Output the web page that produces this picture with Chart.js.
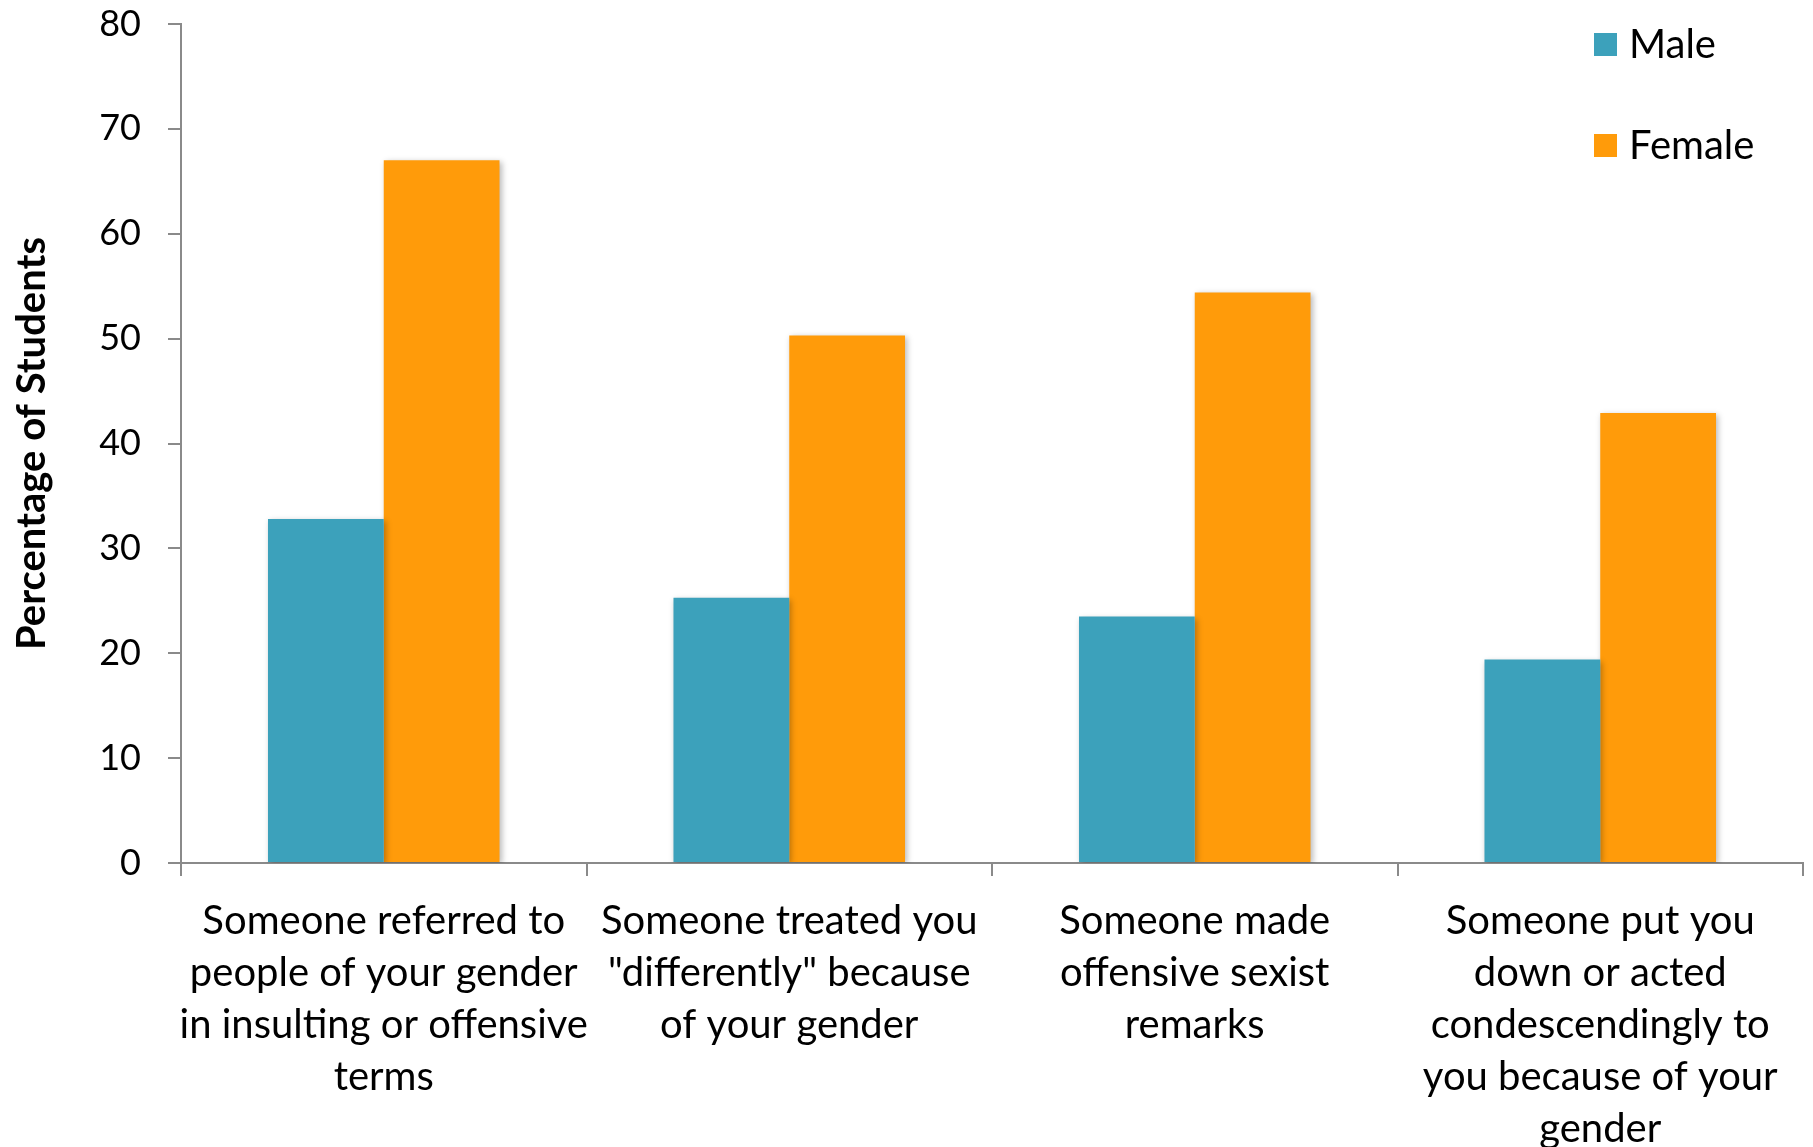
<!DOCTYPE html>
<html>
<head>
<meta charset="utf-8">
<script src="https://cdn.jsdelivr.net/npm/chart.js@4/dist/chart.umd.min.js"></script>
<style>
  html, body { margin: 0; padding: 0; background: #ffffff; }
  #wrap { width: 1813px; height: 1147px; position: relative; }
</style>
</head>
<body>
<div id="wrap"><canvas id="chart" width="1813" height="1147"></canvas></div>
<script>
// Survey categories, each split into the lines shown under the axis
const categories = [
  ["Someone referred to", "people of your gender", "in insulting or offensive", "terms"],
  ["Someone treated you", "\"differently\" because", "of your gender"],
  ["Someone made", "offensive sexist", "remarks"],
  ["Someone put you", "down or acted", "condescendingly to", "you because of your", "gender"]
];

// Percentage of students reporting each experience
const maleValues = [32.8, 25.3, 23.5, 19.4];
const femaleValues = [67.0, 50.3, 54.4, 42.9];

const seriesNames = ["Male", "Female"];
const seriesColors = ["#3CA1BB", "#FF9B0A"];

// Value axis range
const yMin = 0;
const yMax = 80;
const yStep = 10;

const FONT = "Lato, 'Open Sans', sans-serif";
const AXIS_GREY = "#8a8a8a";

// Soft drop shadow behind the bars
const barShadow = {
  id: "barShadow",
  beforeDatasetDraw(chart) {
    const ctx = chart.ctx;
    ctx.save();
    ctx.shadowColor = "rgba(0,0,0,0.28)";
    ctx.shadowBlur = 6;
    ctx.shadowOffsetX = 2;
    ctx.shadowOffsetY = 2;
  },
  afterDatasetDraw(chart) {
    chart.ctx.restore();
  }
};

// Stacked legend in the upper right corner of the plot
const cornerLegend = {
  id: "cornerLegend",
  afterDraw(chart) {
    const ctx = chart.ctx;
    const x = 1594, size = 23;
    const rows = [44.5, 145.5];
    ctx.save();
    ctx.font = "40px " + FONT;
    ctx.textBaseline = "middle";
    ctx.textAlign = "left";
    chart.data.datasets.forEach((ds, i) => {
      const cy = rows[i];
      ctx.fillStyle = ds.backgroundColor;
      ctx.fillRect(x, cy - size / 2, size, size);
      ctx.fillStyle = "#000000";
      ctx.fillText(ds.label, x + 35, cy + 1);
    });
    ctx.restore();
  }
};

new Chart(document.getElementById("chart"), {
  type: "bar",
  data: {
    labels: categories,
    datasets: [
      { label: seriesNames[0], data: maleValues, backgroundColor: seriesColors[0] },
      { label: seriesNames[1], data: femaleValues, backgroundColor: seriesColors[1] }
    ]
  },
  plugins: [barShadow, cornerLegend],
  options: {
    responsive: false,
    animation: false,
    devicePixelRatio: 1,
    layout: { padding: { top: 0, right: 10, bottom: 0, left: 0 } },
    datasets: {
      bar: { categoryPercentage: 0.571, barPercentage: 1.0, borderWidth: 0 }
    },
    plugins: {
      legend: { display: false },
      tooltip: { enabled: false },
      title: { display: false }
    },
    scales: {
      x: {
        offset: true,
        grid: {
          offset: true,
          drawOnChartArea: false,
          drawTicks: true,
          tickLength: 13,
          color: AXIS_GREY,
          lineWidth: 2
        },
        border: { display: true, color: AXIS_GREY, width: 2 },
        ticks: {
          color: "#000000",
          font: { family: FONT, size: 40, lineHeight: 1.3 },
          padding: 19,
          maxRotation: 0,
          minRotation: 0,
          autoSkip: false
        },
        afterFit(scale) { scale.height = 284; }
      },
      y: {
        min: yMin,
        max: yMax,
        grid: {
          drawOnChartArea: false,
          drawTicks: true,
          tickLength: 13,
          color: AXIS_GREY,
          lineWidth: 2
        },
        border: { display: true, color: AXIS_GREY, width: 2 },
        ticks: {
          stepSize: yStep,
          color: "#000000",
          font: { family: FONT, size: 36 },
          padding: 27
        },
        title: {
          display: true,
          text: "Percentage of Students",
          color: "#000000",
          font: { family: FONT, size: 40, weight: "bold", lineHeight: 1.2 },
          padding: { top: 8, bottom: 0 }
        },
        afterFit(scale) {
          scale.width = 181;
          scale.paddingTop = 24;
          scale.paddingBottom = 0;
        }
      }
    }
  }
});
</script>
</body>
</html>
